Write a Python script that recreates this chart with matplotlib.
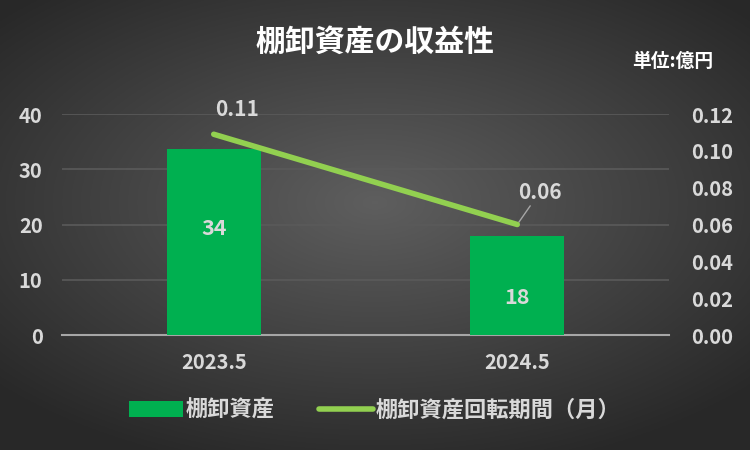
import matplotlib.pyplot as plt
import numpy as np

plt.rcParams['font.family'] = ['Noto Sans CJK JP', 'DejaVu Sans']
plt.rcParams['font.weight'] = 'bold'

# data
periods = ['2023.5', '2024.5']
inventory = [33.7, 17.9]          # 棚卸資産 (億円)
turnover_months = [0.109, 0.060]  # 棚卸資産回転期間（月）

bar_color = '#00b050'
line_color = '#92d050'
text_color = '#d9d9d9'

fig = plt.figure(figsize=(7.5, 4.5), dpi=100)

# radial gradient background
bg = fig.add_axes([0, 0, 1, 1], zorder=-10)
yy, xx = np.mgrid[-1:1:300j, -1:1:500j]
r = np.sqrt((xx / 1.15) ** 2 + ((yy + 0.1) / 1.05) ** 2)
shade = np.clip(0.37 - 0.18 * r, 0.16, 0.37)
bg.imshow(np.dstack([shade] * 3), aspect='auto', extent=[0, 1, 0, 1])
bg.axis('off')

ax = fig.add_axes([62 / 750, (450 - 335) / 450, (669 - 62) / 750, 221 / 450])
ax.patch.set_alpha(0)
x = np.arange(len(periods))
bars = ax.bar(x, inventory, width=0.31, color=bar_color, zorder=3)
ax.set_xlim(-0.5, 1.5)
ax.set_ylim(0, 40)
ax.set_yticks(range(0, 41, 10))
ax.grid(axis='y', color='#5a5a5a', linewidth=1.2, zorder=0)
for s in ['top', 'right', 'left']:
    ax.spines[s].set_visible(False)
ax.spines['bottom'].set_color('#a6a6a6')
ax.spines['bottom'].set_linewidth(1.5)
ax.set_xticks(x)
ax.set_xticklabels(periods)
ax.tick_params(axis='both', length=0, colors=text_color, labelsize=14.5)
ax.tick_params(axis='x', pad=12)
ax.tick_params(axis='y', pad=14)

bar_label_y = [19.2, 6.8]
for xi, v, ly in zip(x, inventory, bar_label_y):
    ax.text(xi, ly, f'{v:.0f}', ha='center', va='center', color=text_color,
            fontsize=15.5, fontweight='bold', zorder=5)

ax2 = ax.twinx()
ax2.set_ylim(0, 0.12)
ax2.set_yticks(np.arange(0, 0.121, 0.02))
ax2.yaxis.set_major_formatter(plt.FuncFormatter(lambda v, p: f'{v:.2f}'))
for s in ['top', 'right', 'left', 'bottom']:
    ax2.spines[s].set_visible(False)
ax2.tick_params(axis='y', length=0, colors=text_color, labelsize=14.5, pad=16)
line, = ax2.plot(x, turnover_months, color=line_color, linewidth=4,
                 solid_capstyle='round', zorder=4)

ax2.annotate(f'{turnover_months[0]:.2f}', (x[0], turnover_months[0]),
             xytext=(17, 18), textcoords='offset points', ha='center',
             va='center', color=text_color, fontsize=15)
ax2.annotate(f'{turnover_months[1]:.2f}', (x[1], turnover_months[1]),
             xytext=(16, 23), textcoords='offset points', ha='center',
             va='center', color=text_color, fontsize=15,
             arrowprops=dict(arrowstyle='-', color='#a6a6a6', lw=1,
                             shrinkA=0, shrinkB=2))

fig.text(0.5, 1 - 42 / 450, '棚卸資産の収益性', ha='center', va='center',
         color='white', fontsize=21.5, fontweight='bold')
fig.text(673 / 750, 1 - 61 / 450, '単位:億円', ha='center', va='center',
         color='white', fontsize=13.5, fontweight='bold')

handles = [bars, line]
leg = fig.legend(handles, ['棚卸資産', '棚卸資産回転期間（月）'], loc='center',
                 bbox_to_anchor=(0.5, 1 - 410 / 450), ncol=2, frameon=False,
                 fontsize=16, handlelength=2.4, handletextpad=0.15,
                 columnspacing=2.0)
for t in leg.get_texts():
    t.set_color(text_color)

fig.savefig('out.png', dpi=100)
